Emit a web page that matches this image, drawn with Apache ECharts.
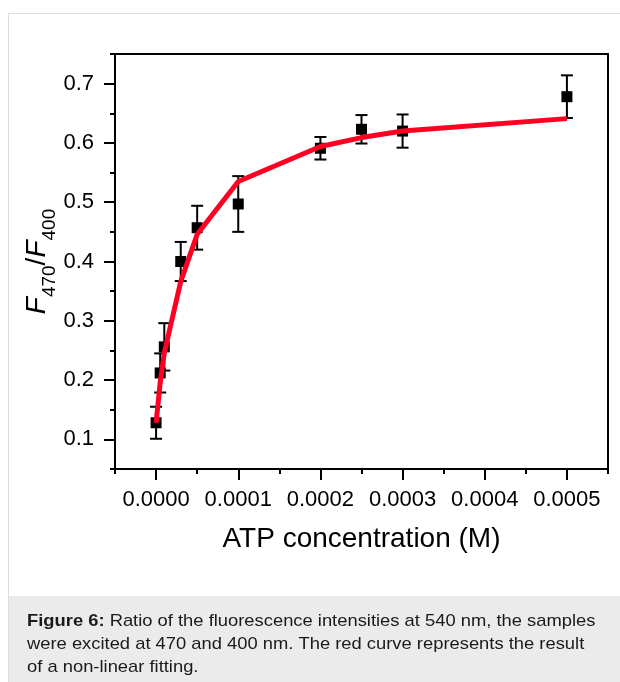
<!DOCTYPE html>
<html><head><meta charset="utf-8">
<script src="https://cdn.jsdelivr.net/npm/echarts@6/dist/echarts.min.js"></script>
<style>html,body{margin:0;padding:0;background:#fff}#c{width:620px;height:682px}</style>
</head><body><div id="c"></div>
<script>
// ATP concentration (M)
const concentration = [0, 0.000005, 0.00001, 0.00003, 0.00005, 0.0001, 0.0002, 0.00025, 0.0003, 0.0005];
// F470/F400 measured
const ratio = [0.128, 0.212, 0.256, 0.400, 0.457, 0.497, 0.591, 0.623, 0.620, 0.678];
const ratioError = [0.027, 0.033, 0.040, 0.033, 0.037, 0.047, 0.019, 0.024, 0.028, 0.036];
// non-linear fit values at the same concentrations
const fitRatio = [0.128, 0.196, 0.246, 0.366, 0.446, 0.535, 0.594, 0.609, 0.620, 0.641];
// axis ticks
const xTickValues = [0, 0.0001, 0.0002, 0.0003, 0.0004, 0.0005];
const yTickValues = [0.1, 0.2, 0.3, 0.4, 0.5, 0.6, 0.7];
const xRange = [-0.00005, 0.00055];
const yRange = [0.05, 0.75];
const xMinorStep = 0.00005;
const yMinorStep = 0.05;

const FONT = "'Liberation Sans', Arial, sans-serif";
const chart = echarts.init(document.getElementById('c'), null, {renderer: 'canvas'});

const axisLineStyle = {show: true, onZero: false, lineStyle: {color: '#000', width: 2}};

chart.setOption({
  animation: false,
  backgroundColor: '#fff',
  grid: {left: 115, right: 12, top: 54, bottom: 213, show: true, borderColor: '#000', borderWidth: 2, outerBoundsMode: 'none', containLabel: false},
  xAxis: [
    {type: 'value', min: xRange[0], max: xRange[1], interval: xMinorStep,
     axisLine: axisLineStyle, splitLine: {show: false},
     axisTick: {show: true, inside: false, length: 5, lineStyle: {color: '#000', width: 2}},
     axisLabel: {show: false},
     name: 'ATP concentration (M)', nameLocation: 'middle', nameGap: 56,
     nameTextStyle: {fontFamily: FONT, fontSize: 28, color: '#000'}},
    {type: 'value', position: 'bottom', min: xRange[0], max: xRange[1],
     axisLine: {show: false, onZero: false}, splitLine: {show: false},
     axisTick: {show: true, inside: false, length: 11, customValues: xTickValues, lineStyle: {color: '#000', width: 2}},
     axisLabel: {show: true, customValues: xTickValues, margin: 20, fontFamily: FONT, fontSize: 22, color: '#000',
                 formatter: v => v.toFixed(4)}}
  ],
  yAxis: [
    {type: 'value', min: yRange[0], max: yRange[1], interval: yMinorStep,
     axisLine: axisLineStyle, splitLine: {show: false},
     axisTick: {show: true, inside: false, length: 5, lineStyle: {color: '#000', width: 2}},
     axisLabel: {show: false},
     name: '{i|F}{s|470}{n|/}{i|F}{s|400}', nameLocation: 'middle', nameRotate: 90, nameGap: 62,
     nameTextStyle: {rich: {
       i: {fontFamily: FONT, fontSize: 28, fontStyle: 'italic', color: '#000', lineHeight: 32},
       n: {fontFamily: FONT, fontSize: 28, color: '#000', lineHeight: 32},
       s: {fontFamily: FONT, fontSize: 19, color: '#000', lineHeight: 20, verticalAlign: 'bottom', padding: [0, 0, -6, 0]}
     }}},
    {type: 'value', position: 'left', min: yRange[0], max: yRange[1],
     axisLine: {show: false, onZero: false}, splitLine: {show: false},
     axisTick: {show: true, inside: false, length: 11, customValues: yTickValues, lineStyle: {color: '#000', width: 2}},
     axisLabel: {show: true, customValues: yTickValues, margin: 21, fontFamily: FONT, fontSize: 22, color: '#000',
                 formatter: v => v.toFixed(1)}}
  ],
  series: [
    {type: 'custom', xAxisIndex: 0, yAxisIndex: 0, z: 3, silent: true,
     data: concentration.map((x, i) => [x, ratio[i] - ratioError[i], ratio[i] + ratioError[i]]),
     encode: {x: 0, y: [1, 2]},
     renderItem: function (params, api) {
       const lo = api.coord([api.value(0), api.value(1)]);
       const hi = api.coord([api.value(0), api.value(2)]);
       const w = 6;
       const st = {stroke: '#000', lineWidth: 2};
       return {type: 'group', children: [
         {type: 'line', shape: {x1: lo[0], y1: lo[1], x2: hi[0], y2: hi[1]}, style: st},
         {type: 'line', shape: {x1: lo[0] - w, y1: lo[1], x2: lo[0] + w, y2: lo[1]}, style: st},
         {type: 'line', shape: {x1: hi[0] - w, y1: hi[1], x2: hi[0] + w, y2: hi[1]}, style: st}
       ]};
     }},
    {type: 'scatter', xAxisIndex: 0, yAxisIndex: 0, z: 4, silent: true,
     symbol: 'rect', symbolSize: 11, itemStyle: {color: '#000', opacity: 1},
     data: concentration.map((x, i) => [x, ratio[i]])},
    {type: 'line', xAxisIndex: 0, yAxisIndex: 0, z: 5, silent: true,
     showSymbol: false, symbol: 'none', smooth: false,
     lineStyle: {color: '#ff0022', width: 5},
     data: concentration.map((x, i) => [x, fitRatio[i]])}
  ],
  graphic: [
    {type: 'rect', z: -10, shape: {x: 8.5, y: 13.5, width: 700, height: 700}, style: {fill: 'none', stroke: '#dddddd', lineWidth: 1}},
    {type: 'rect', z: -9, shape: {x: 9, y: 596, width: 700, height: 100}, style: {fill: '#ebebeb'}},
    {type: 'text', z: 10, x: 27, y: 609.5, scaleX: 1.08, style: {
      text: '{b|Figure 6:}{r| Ratio of the fluorescence intensities at 540 nm, the samples}\n{r|were excited at 470 and 400 nm. The red curve represents the result}\n{r|of a non-linear fitting.}',
      verticalAlign: 'top', align: 'left',
      rich: {
        b: {fontFamily: FONT, fontSize: 17, fontWeight: 'bold', fill: '#1a1a1a', lineHeight: 23},
        r: {fontFamily: FONT, fontSize: 17, fill: '#1a1a1a', lineHeight: 23}
      }}}
  ]
});
</script></body></html>
